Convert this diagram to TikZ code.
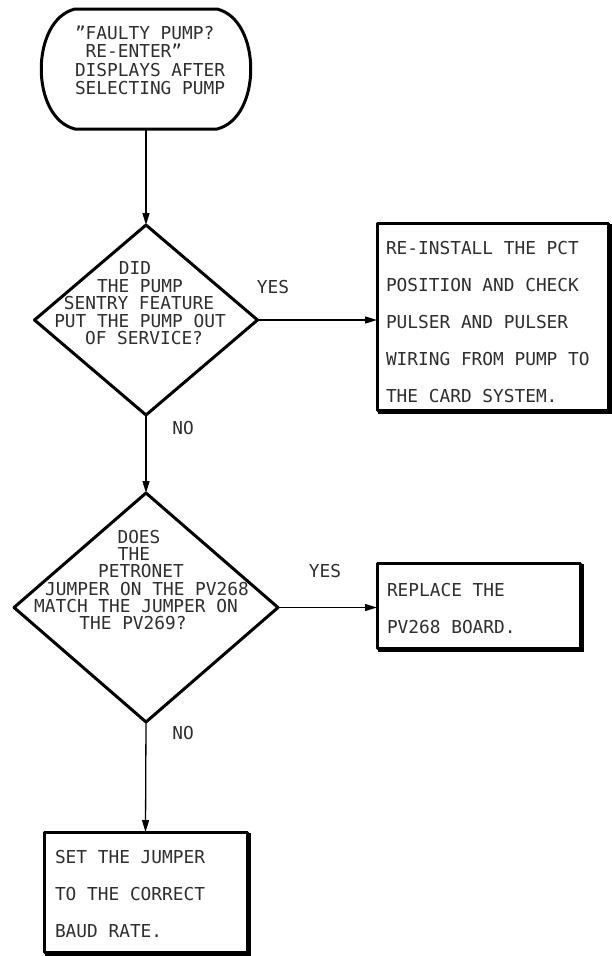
\documentclass[tikz,border=0pt]{standalone}
\usepackage{fontspec}
\newfontfamily\cadfont{DejaVu Sans Mono}
\usetikzlibrary{shapes.geometric,arrows.meta,calc}
\begin{document}
\begin{tikzpicture}[x=1pt,y=-1pt,
  every node/.style={inner sep=0pt, outer sep=0pt},
  txt/.style={font=\cadfont\fontsize{17.8}{17.5}\selectfont, text=black!82},
  linetxt/.style={txt, anchor=base},
  boxtxt/.style={font=\cadfont\fontsize{17.8}{37}\selectfont, text=black!82, align=left, anchor=north west},
  shp/.style={draw, line width=3pt, line join=round},
  dia/.style={shp, shape=diamond},
  box/.style={shp, rectangle},
  shadowline/.style={line width=3pt, line cap=rect},
  conn/.style={draw, line width=1.3pt, -{Triangle[length=12pt,width=7pt]}}
]
\fill[white] (0,0) rectangle (612,956);
\useasboundingbox (0,0) rectangle (612,956);

% start terminal
\node (t) [minimum width=208pt, minimum height=120pt] at (146,69) {};
\draw[shp] ($(t.north west)+(33,0)$) -- ($(t.north east)+(-33,0)$)
  .. controls ($(t.north east)+(12,11)$) and ($(t.south east)+(12,-11)$) .. ($(t.south east)+(-33,0)$)
  -- ($(t.south west)+(33,0)$)
  .. controls ($(t.south west)+(-12,-11)$) and ($(t.north west)+(-12,11)$) .. cycle;
\node (ttxt) [txt, font=\cadfont\fontsize{17.8}{18.5}\selectfont, align=left, anchor=north west] at (75,25.5)
  {”FAULTY PUMP?\\~RE-ENTER”\\DISPLAYS AFTER\\SELECTING PUMP};

% decisions (each text line is placed by its centre x and baseline y, relative to the diamond centre)
\node[dia, minimum width=223pt, minimum height=190pt] (d1) at (146,320) {};
\foreach \dx/\dy/\s [count=\i] in {
    -11/-45.5/DID,
    -6/-28/THE PUMP,
    -7/-10.5/SENTRY FEATURE,
    -6/7/PUT THE PUMP OUT,
    -2/24.5/OF SERVICE?}
  \node (d1l\i) [linetxt] at ($(d1)+(\dx,\dy)$) {\s};

\node[dia, minimum width=264pt, minimum height=229pt] (d2) at (146,607.5) {};
\foreach \dx/\dy/\s [count=\i] in {
    -7/-64/DOES,
    -12/-47/THE,
    -5/-30/PETRONET,
    1/-12.5/JUMPER ON THE PV268,
    -10/4.5/MATCH THE JUMPER ON,
    -13/22/THE PV269?}
  \node (d2l\i) [linetxt] at ($(d2)+(\dx,\dy)$) {\s};

% action boxes
\node[box, minimum width=231pt, minimum height=187pt] (b1) at (492.5,316.5) {};
\node[box, minimum width=203pt, minimum height=85pt] (b2) at (478.5,605.5) {};
\node[box, minimum width=203pt, minimum height=120pt] (b3) at (145.5,892) {};
\foreach \b in {b1,b2,b3}{
  \draw[shadowline] ($(\b.north east)+(2,2)$) -- ($(\b.south east)+(2,2)$) -- ($(\b.south west)+(2,2)$);
}
\node (b1txt) [boxtxt] at ($(b1.north west)+(9,18.5)$)
  {RE-INSTALL THE PCT\\POSITION AND CHECK\\PULSER AND PULSER\\WIRING FROM PUMP TO\\THE CARD SYSTEM.};
\node (b2txt) [boxtxt] at ($(b2.north west)+(10,20.5)$)
  {REPLACE THE\\PV268 BOARD.};
\node (b3txt) [boxtxt] at ($(b3.north west)+(11,18.5)$)
  {SET THE JUMPER\\TO THE CORRECT\\BAUD RATE.};

% connectors
\draw[conn] (t.south) -- (d1.north);
\draw[conn] (d1.east) -- (d1.east -| b1.west);
\draw[conn] (d1.south) -- (d2.north);
\draw[conn] (d2.east) -- (d2.east -| b2.west);
\draw[conn] (d2.south) -- (b3.north);

% branch labels
\node (y1) [txt] at (273,287) {YES};
\node (n1) [txt] at (183,428) {NO};
\node (y2) [txt] at (325,571) {YES};
\node (n2) [txt] at (183,733) {NO};
\end{tikzpicture}
\end{document}
